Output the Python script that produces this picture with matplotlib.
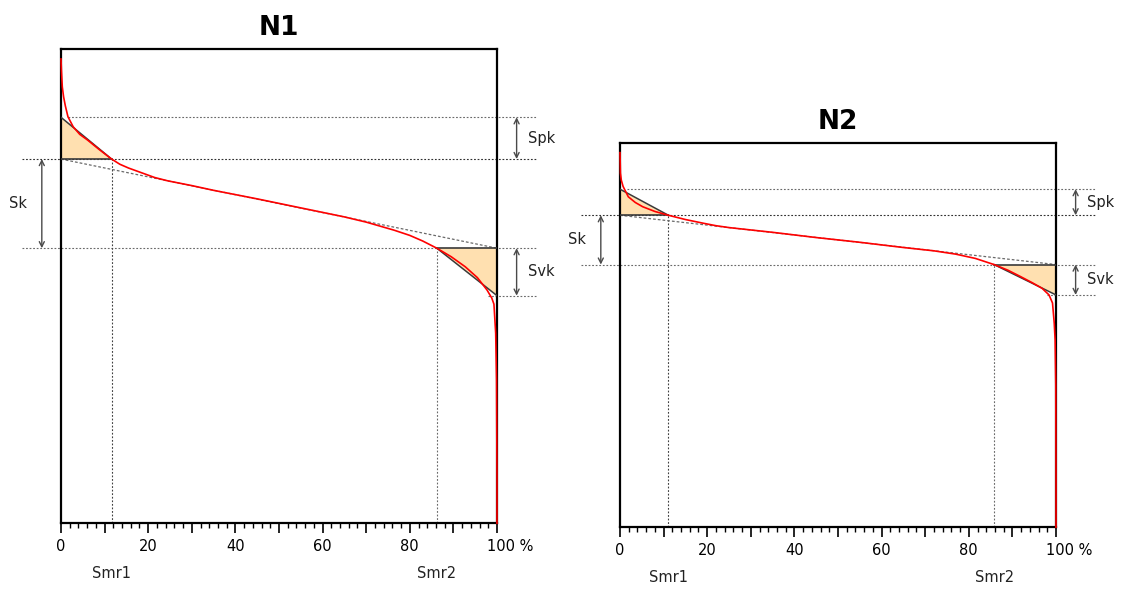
import matplotlib
matplotlib.use("Agg")
import matplotlib.pyplot as plt
from matplotlib.ticker import MultipleLocator
from matplotlib.transforms import ScaledTranslation

plt.rcParams['font.family'] = ['DejaVu Sans']

# ---- material ratio (Abbott-Firestone) curves: x = material ratio %, y = height ----
n1_ratio = [0, 0.1, 0.3, 0.6, 1.0, 1.6, 2.8, 4.3, 6.1, 8.5, 11.6, 13.5, 15.5, 18.8,
            21.5, 24.5, 30, 35, 45, 55, 65, 70, 76.4, 80, 83, 86.2, 89.5, 92.7, 95.5,
            97.7, 98.8, 99.3, 99.7, 99.9, 100, 100]
n1_height = [9.79, 9.55, 9.20, 8.99, 8.80, 8.57, 8.36, 8.20, 8.08, 7.90, 7.68, 7.57,
             7.49, 7.38, 7.29, 7.22, 7.12, 7.02, 6.84, 6.65, 6.46, 6.35, 6.18, 6.07,
             5.95, 5.80, 5.62, 5.41, 5.18, 4.92, 4.75, 4.62, 4.01, 3.02, 1.0, 0.0]

n2_ratio = [0, 0.1, 0.3, 0.7, 1.9, 3.5, 5.2, 8, 11.1, 15, 19.2, 22, 25, 30, 35, 45,
            55, 65, 72, 77, 81.5, 85.8, 89, 91.8, 94.5, 96.8, 98.4, 99.2, 99.6, 99.8,
            99.95, 100, 100]
n2_height = [7.90, 7.47, 7.32, 7.19, 6.97, 6.85, 6.76, 6.66, 6.58, 6.49, 6.41, 6.36,
             6.32, 6.27, 6.22, 6.11, 6.01, 5.90, 5.83, 5.76, 5.67, 5.54, 5.42, 5.29,
             5.16, 5.04, 4.90, 4.73, 4.30, 3.95, 3.00, 1.0, 0.0]

# ---- parameters per surface ----
titles = ["N1", "N2"]
smr1 = [11.6, 11.1]
smr2 = [86.2, 85.8]
core_top = [7.68, 6.58]       # upper limit of the core (Sk)
core_bottom = [5.80, 5.54]    # lower limit of the core (Sk)
peak_top = [8.56, 7.13]       # Spk triangle apex at 0 %
valley_bottom = [4.80, 4.90]  # Svk triangle apex at 100 %
height_max = [10.0, 8.11]

tick_values = [0, 10, 20, 30, 40, 50, 60, 70, 80, 90, 100]
tick_labels = ["0", "", "20", "", "40", "", "60", "", "80", "", "100 %"]

fig = plt.figure(figsize=(11.26, 5.90), dpi=100)
axes_rects = [[0.05417, 0.11305, 0.38721, 0.80390],
              [0.55062, 0.10627, 0.38721, 0.65187]]

fill_col = "#FFE0B0"
edge_col = "#3a3a3a"
dot_col = "#6a6a6a"
arrow_col = "#4a4a4a"
text_col = "#222222"
dots = (0, (1.6, 1.6))


def arrow(ax, x, y0, y1):
    ax.annotate("", xy=(x, y1), xytext=(x, y0), xycoords="data",
                arrowprops=dict(arrowstyle="<->", color=arrow_col, lw=1.0,
                                mutation_scale=9, shrinkA=0, shrinkB=0),
                annotation_clip=False)


curves = [(n1_ratio, n1_height), (n2_ratio, n2_height)]

for i, rect in enumerate(axes_rects):
    ax = fig.add_axes(rect)
    xr, hr = curves[i]
    ax.set_xlim(0, 100)
    ax.set_ylim(0, height_max[i])

    # Spk / Svk triangles
    ax.fill([0, 0, smr1[i]], [peak_top[i], core_top[i], core_top[i]],
            color=fill_col, zorder=2, lw=0)
    ax.plot([0, smr1[i]], [peak_top[i], core_top[i]], color=edge_col, lw=1.1, zorder=3)
    ax.plot([0, smr1[i]], [core_top[i], core_top[i]], color=edge_col, lw=1.2, zorder=3)
    ax.fill([smr2[i], 100, 100], [core_bottom[i], core_bottom[i], valley_bottom[i]],
            color=fill_col, zorder=2, lw=0)
    ax.plot([smr2[i], 100], [core_bottom[i], valley_bottom[i]], color=edge_col, lw=1.1, zorder=3)
    ax.plot([smr2[i], 100], [core_bottom[i], core_bottom[i]], color=edge_col, lw=1.2, zorder=3)

    # equivalent straight line of the core
    ax.plot([0, 100], [core_top[i], core_bottom[i]], color=dot_col, lw=0.9,
            ls=(0, (2.2, 1.6)), zorder=2)

    # horizontal level lines, extended outside the frame
    ax.plot([-9.0, 109.0], [core_top[i], core_top[i]], color="#303030", lw=0.8,
            ls=dots, clip_on=False, zorder=1)
    ax.plot([-9.0, 109.0], [core_bottom[i], core_bottom[i]], color=dot_col, lw=0.8,
            ls=dots, clip_on=False, zorder=1)
    ax.plot([1.7, 109.0], [peak_top[i], peak_top[i]], color=dot_col, lw=0.8,
            ls=dots, clip_on=False, zorder=1)
    ax.plot([98.0, 109.0], [valley_bottom[i], valley_bottom[i]], color=dot_col, lw=0.8,
            ls=dots, clip_on=False, zorder=1)

    # vertical lines at Smr1 / Smr2
    ax.plot([smr1[i], smr1[i]], [0, core_top[i]], color="#404040", lw=0.8, ls=dots, zorder=1)
    ax.plot([smr2[i], smr2[i]], [0, core_bottom[i]], color=dot_col, lw=0.8, ls=dots, zorder=1)

    # bearing area curve
    ax.plot(xr, hr, color="red", lw=1.2, zorder=4, clip_on=False)

    # dimension arrows and labels
    arrow(ax, -4.4, core_top[i], core_bottom[i])
    arrow(ax, 104.5, core_top[i], peak_top[i])
    arrow(ax, 104.5, core_bottom[i], valley_bottom[i])
    ax.text(-9.9, (core_top[i] + core_bottom[i]) / 2, "Sk", ha="center", va="center",
            fontsize=10.5, color=text_col)
    ax.text(107.2, (core_top[i] + peak_top[i]) / 2, "Spk", ha="left", va="center",
            fontsize=10.5, color=text_col)
    ax.text(107.2, (core_bottom[i] + valley_bottom[i]) / 2, "Svk", ha="left", va="center",
            fontsize=10.5, color=text_col)

    for xv, lab in ((smr1[i], "Smr1"), (smr2[i], "Smr2")):
        ax.annotate(lab, xy=(xv, 0), xycoords=("data", "axes fraction"),
                    xytext=(0, -36.5), textcoords="offset points",
                    ha="center", va="center", fontsize=10.5, color=text_col)

    ax.set_title(titles[i], fontsize=19, fontweight="bold", pad=10)

    # frame and ticks
    for s in ax.spines.values():
        s.set_linewidth(1.6)
        s.set_color("black")
    ax.set_yticks([])
    ax.set_xticks(tick_values)
    ax.set_xticklabels(tick_labels, fontsize=10.5)
    ax.xaxis.set_minor_locator(MultipleLocator(2))
    ax.tick_params(axis="x", which="major", direction="out", length=7, width=1.2, pad=4)
    ax.tick_params(axis="x", which="minor", direction="out", length=3.5, width=1.0)
    lbl = ax.get_xticklabels()[-1]
    lbl.set_ha("left")
    lbl.set_transform(lbl.get_transform() + ScaledTranslation(-0.10, 0, fig.dpi_scale_trans))

fig.savefig("out.png", dpi=100)
